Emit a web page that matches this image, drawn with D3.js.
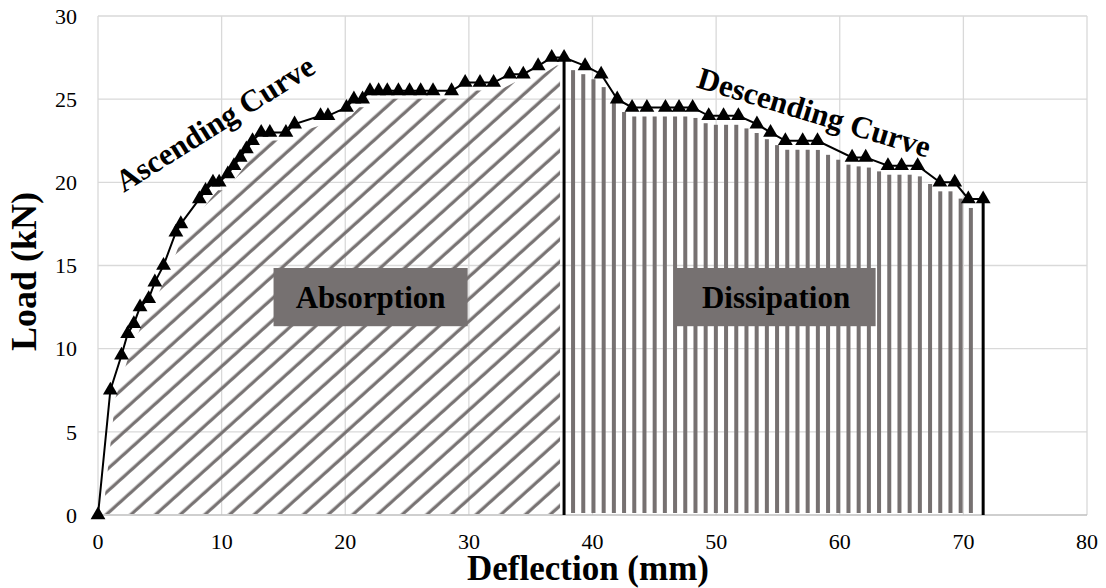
<!DOCTYPE html>
<html>
<head>
<meta charset="utf-8">
<script src="https://cdn.jsdelivr.net/npm/d3@7"></script>
<style>
  body { margin: 0; background: #fff; }
  svg { display: block; }
</style>
</head>
<body>
<div id="chart"></div>
<script>
// Load-deflection readings (mm, kN)
const deflection = [
  0, 1.0, 1.9, 2.4, 2.9, 3.4, 4.1, 4.6, 5.3, 6.3, 6.7, 8.2, 8.7, 9.3, 9.8,
  10.5, 11.0, 11.5, 12.0, 12.5, 13.2, 13.9, 15.2, 15.9, 18.0, 18.6, 20.1, 20.7,
  21.4, 22.0, 22.7, 23.4, 24.3, 25.2, 26.1, 27.1, 28.6, 29.7, 30.9, 32.0, 33.3,
  34.4, 35.6, 36.7, 37.7,
  39.4, 40.7, 42.0, 43.2, 44.4, 45.9, 47.0, 48.1, 49.4, 50.6, 51.8, 53.3, 54.4,
  55.6, 57.0, 58.2, 61.0, 62.1, 63.9, 65.0, 66.3, 68.1, 69.3, 70.4, 71.6
];
const load = [
  0, 7.5, 9.6, 10.9, 11.5, 12.5, 13.0, 14.0, 15.0, 17.0, 17.5, 19.0, 19.5, 20.0, 20.0,
  20.5, 21.0, 21.5, 22.0, 22.5, 23.0, 23.0, 23.0, 23.5, 24.0, 24.0, 24.5, 25.0,
  25.0, 25.5, 25.5, 25.5, 25.5, 25.5, 25.5, 25.5, 25.5, 26.0, 26.0, 26.0, 26.5,
  26.5, 27.0, 27.5, 27.5,
  27.0, 26.5, 25.0, 24.5, 24.5, 24.5, 24.5, 24.5, 24.0, 24.0, 24.0, 23.5, 23.0,
  22.5, 22.5, 22.5, 21.5, 21.5, 21.0, 21.0, 21.0, 20.0, 20.0, 19.0, 19.0
];
const xTicks = [0, 10, 20, 30, 40, 50, 60, 70, 80];
const yTicks = [0, 5, 10, 15, 20, 25, 30];
const xTitle = 'Deflection (mm)';
const yTitle = 'Load (kN)';
// region boxes: [label, x from, x to, load top, load bottom]
const regionBoxes = [
  ['Absorption', 14.2, 29.9, 14.85, 11.35],
  ['Dissipation', 46.8, 62.9, 14.85, 11.35]
];
// curve labels: [text, x, load, angle]
const curveLabels = [
  ['Ascending Curve', 9.9, 23.0, -32],
  ['Descending Curve', 57.7, 23.6, 17]
];

const W = 1106, H = 588;
const margin = { top: 16, right: 19, bottom: 73, left: 98 };
const serif = '"Liberation Serif", "Times New Roman", serif';
const grey = '#767171';

const points = deflection.map((d, i) => ({ x: d, y: load[i] }));
const maxLoad = d3.max(load);
// last reading that reaches the peak load
const peakIdx = load.lastIndexOf(maxLoad);
const peak = points[peakIdx];
const last = points[points.length - 1];

const svg = d3.select('#chart').append('svg')
  .attr('width', W).attr('height', H);

const x = d3.scaleLinear().domain([0, 80]).range([margin.left, W - margin.right]);
const y = d3.scaleLinear().domain([0, 30]).range([H - margin.bottom, margin.top]);

// Grid
svg.append('g').selectAll('line').data(yTicks.slice(1)).join('line')
  .attr('x1', x(0)).attr('x2', x(80))
  .attr('y1', d => y(d)).attr('y2', d => y(d))
  .attr('stroke', '#d9d9d9').attr('stroke-width', 1.3);
svg.append('g').selectAll('line').data(xTicks).join('line')
  .attr('x1', d => x(d)).attr('x2', d => x(d))
  .attr('y1', y(0)).attr('y2', y(30))
  .attr('stroke', '#d9d9d9').attr('stroke-width', 1.3);
svg.append('line')
  .attr('x1', x(0)).attr('x2', x(80)).attr('y1', y(0)).attr('y2', y(0))
  .attr('stroke', '#bfbfbf').attr('stroke-width', 1.5);

// Diagonal hatch for absorption
const defs = svg.append('defs');
const pat = defs.append('pattern')
  .attr('id', 'diag')
  .attr('patternUnits', 'userSpaceOnUse')
  .attr('width', 16.5).attr('height', 16.5)
  .attr('patternTransform', 'rotate(-42)');
pat.append('line')
  .attr('x1', 0).attr('x2', 16.5).attr('y1', 8).attr('y2', 8)
  .attr('stroke', grey).attr('stroke-width', 3.2);

const xPeak = x(peak.x);
const absPoly = [[x(0) + 5, y(0) - 1]]
  .concat(points.slice(1, peakIdx + 1).map(d => [Math.min(x(d.x) + 5, xPeak - 4), y(d.y) + 8]))
  .concat([[xPeak - 4, y(0) - 1]]);
svg.append('path')
  .attr('d', d3.line()(absPoly) + 'Z')
  .attr('fill', 'url(#diag)');

// Vertical hatch for dissipation
function loadAt(v) {
  const i = d3.bisector(d => d.x).right(points, v);
  if (i <= 0) return points[0].y;
  if (i >= points.length) return last.y;
  const a = points[i - 1], b = points[i];
  return a.y + (b.y - a.y) * (v - a.x) / (b.x - a.x);
}
const barStep = 10.2;
const barX = d3.range(xPeak + 9, x(last.x) - 3, barStep);
svg.append('g').selectAll('rect').data(barX).join('rect')
  .attr('x', d => d - 2)
  .attr('width', 4)
  .attr('y', d => y(loadAt(x.invert(d))) + 9)
  .attr('height', d => y(0) - 2 - (y(loadAt(x.invert(d))) + 9))
  .attr('fill', grey);

// Boundary lines
svg.append('g').selectAll('line').data([peak, last]).join('line')
  .attr('x1', d => x(d.x)).attr('x2', d => x(d.x))
  .attr('y1', d => y(d.y)).attr('y2', y(0))
  .attr('stroke', '#000').attr('stroke-width', 3);

// Curve
svg.append('path')
  .datum(points)
  .attr('d', d3.line().x(d => x(d.x)).y(d => y(d.y)))
  .attr('fill', 'none').attr('stroke', '#000').attr('stroke-width', 2);

svg.append('g').selectAll('path').data(points).join('path')
  .attr('transform', d => `translate(${x(d.x)},${y(d.y)})`)
  .attr('d', d3.symbol(d3.symbolTriangle, 95))
  .attr('fill', '#000');

// Region boxes
const boxes = svg.append('g').selectAll('g').data(regionBoxes).join('g');
boxes.append('rect')
  .attr('x', d => x(d[1])).attr('y', d => y(d[3]))
  .attr('width', d => x(d[2]) - x(d[1]))
  .attr('height', d => y(d[4]) - y(d[3]))
  .attr('fill', grey);
boxes.append('text')
  .attr('x', d => (x(d[1]) + x(d[2])) / 2)
  .attr('y', d => (y(d[3]) + y(d[4])) / 2)
  .attr('dy', '0.35em')
  .attr('text-anchor', 'middle')
  .style('font-family', serif).style('font-weight', 'bold').style('font-size', '31px')
  .text(d => d[0]);

// Curve labels
svg.append('g').selectAll('text').data(curveLabels).join('text')
  .attr('transform', d => `translate(${x(d[1])},${y(d[2])}) rotate(${d[3]})`)
  .attr('text-anchor', 'middle')
  .style('font-family', serif).style('font-weight', 'bold').style('font-size', '31px')
  .text(d => d[0]);

// Tick labels
svg.append('g').selectAll('text').data(xTicks).join('text')
  .attr('x', d => x(d)).attr('y', y(0) + 34)
  .attr('text-anchor', 'middle')
  .style('font-family', serif).style('font-size', '22px')
  .text(d => d);
svg.append('g').selectAll('text').data(yTicks).join('text')
  .attr('x', x(0) - 21).attr('y', d => y(d))
  .attr('dy', '0.35em')
  .attr('text-anchor', 'end')
  .style('font-family', serif).style('font-size', '22px')
  .text(d => d);

// Axis titles
svg.append('text')
  .attr('x', 588).attr('y', 580)
  .attr('text-anchor', 'middle')
  .style('font-family', serif).style('font-weight', 'bold').style('font-size', '35px')
  .text(xTitle);
svg.append('text')
  .attr('transform', `translate(36,${(y(0) + y(30)) / 2 + 6}) rotate(-90)`)
  .attr('text-anchor', 'middle')
  .style('font-family', serif).style('font-weight', 'bold').style('font-size', '36px')
  .text(yTitle);
</script>
</body>
</html>
